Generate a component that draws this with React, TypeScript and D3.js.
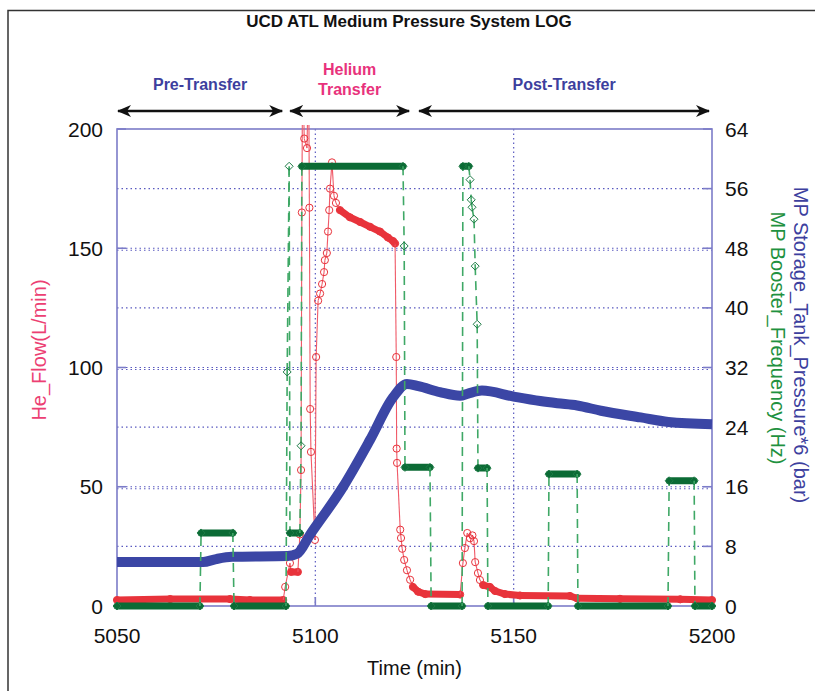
import React from "react";
import * as d3 from "d3";

const title = "UCD ATL Medium Pressure System LOG";
const xTicks = [5050, 5100, 5150, 5200];
const leftTicks = [0, 50, 100, 150, 200];
const rightTicks = [0, 8, 16, 24, 32, 40, 48, 56, 64];

// transfer phases shown with arrows above the plot
const phases = [
  { label: ["Pre-Transfer"], from: 5050, to: 5091.9, color: "#3d3f9e" },
  { label: ["Helium", "Transfer"], from: 5093.4, to: 5123.9, color: "#e8327c" },
  { label: ["Post-Transfer"], from: 5125.9, to: 5199.5, color: "#3d3f9e" },
];

// He_Flow (L/min) - left axis
const heFlow: [number, number][] = [
  [5050, 2.5], [5063.4, 2.9], [5078.5, 2.9], [5083.5, 2.5], [5091.9, 2.5],
  [5092.4, 8], [5093.6, 18], [5093.9, 14.3], [5095.6, 14.3], [5096.1, 30],
  [5096.4, 57], [5096.6, 165], [5096.8, 230], [5097.2, 196], [5097.9, 192],
  [5098.3, 230], [5098.5, 167], [5098.7, 82.6], [5098.9, 64.6], [5099.9, 27.7],
  [5100.2, 104.4], [5100.7, 128], [5101.2, 131], [5101.7, 135], [5102.2, 140],
  [5102.4, 145], [5102.9, 148], [5103.2, 157], [5103.5, 166], [5103.7, 175],
  [5104.2, 186], [5104.7, 172], [5105.2, 169], [5106.2, 166], [5108.7, 163],
  [5111.3, 161], [5113.8, 159], [5116.3, 157], [5118.3, 154.5], [5119.6, 153],
  [5120.1, 152], [5120.4, 104.4], [5120.5, 66], [5120.6, 60], [5121.4, 32],
  [5121.6, 28.5], [5121.9, 24], [5122.4, 19.3], [5123.1, 15], [5123.9, 11],
  [5124.6, 8], [5125.9, 6], [5127.7, 5], [5136.5, 4.8], [5137.2, 18],
  [5137.7, 24.3], [5138.3, 30.6], [5139.0, 28.4], [5139.6, 29.6], [5140.0, 27.2],
  [5140.3, 18.4], [5141.0, 13.8], [5141.5, 10.9], [5142.3, 8.8], [5144.0, 8],
  [5145.3, 6.3], [5147.8, 5], [5151.6, 4.4], [5164.2, 4.2], [5166.0, 3.2],
  [5176.8, 3.0], [5192, 2.8], [5200, 2.5],
];

// MP Storage_Tank_Pressure*6 (bar) - right axis
const tankPressure: [number, number][] = [
  [5050, 5.9], [5071.7, 5.9], [5075, 6.3], [5079, 6.6], [5093, 6.7],
  [5095.4, 7.0], [5098.7, 9.6], [5107.0, 16.0], [5113.8, 22.3], [5119.6, 28.0],
  [5123.1, 29.8], [5126, 29.5], [5131.4, 28.7], [5136.5, 28.2], [5138.5, 28.5],
  [5142.0, 28.9], [5150, 28.1], [5156.7, 27.5], [5161, 27.2], [5166, 26.9],
  [5172, 26.2], [5182, 25.3], [5189, 24.7], [5200, 24.4],
];

// MP Booster_Frequency (Hz) - right axis
const boosterFreq: [number, number][] = [
  [5050, 0], [5070.9, 0], [5071.2, 9.8], [5079.2, 9.8], [5079.5, 0],
  [5092.6, 0], [5092.9, 31.4], [5093.4, 59], [5093.6, 9.8], [5096.1, 9.8],
  [5096.4, 21.5], [5096.6, 59], [5122.1, 59], [5122.4, 48.3], [5122.6, 18.6],
  [5128.9, 18.6], [5129.2, 0], [5137.0, 0], [5137.2, 59], [5138.7, 59],
  [5139.0, 57.2], [5139.3, 54.5], [5139.5, 53.5], [5140.0, 51.9], [5140.3, 45.6],
  [5140.8, 37.8], [5141.0, 18.5], [5143.3, 18.5], [5143.5, 0], [5158.7, 0],
  [5158.9, 17.7], [5166.0, 17.7], [5166.2, 0], [5188.9, 0], [5189.2, 16.8],
  [5195.5, 16.8], [5195.7, 0], [5200, 0],
];

const W = 815;
const H = 691;
const left = 117, right = 712, top = 129, bottom = 606;
const font = "'Liberation Sans', Arial, Helvetica, sans-serif";

const x = d3.scaleLinear().domain([5050, 5200]).range([left, right]);
const yL = d3.scaleLinear().domain([0, 200]).range([bottom, top]);
const yR = d3.scaleLinear().domain([0, 64]).range([bottom, top]);

type Seg = { x1: number; y1: number; x2: number; y2: number };
function segments(pts: [number, number][], y: d3.ScaleLinear<number, number>): Seg[] {
  return pts.slice(1).map((p, i) => ({
    x1: x(pts[i][0]), y1: y(pts[i][1]), x2: x(p[0]), y2: y(p[1]),
  }));
}
// dense samples draw as a solid band where the curve is nearly level
const isFlat = (s: Seg) => Math.abs(s.y2 - s.y1) <= Math.max(2.5, 1.2 * Math.abs(s.x2 - s.x1));

export default function App() {
  const redSegs = segments(heFlow, yL);
  const greenSegs = segments(boosterFreq, yR);
  const blueLine = d3.line<[number, number]>()
    .x(d => x(d[0])).y(d => yR(d[1]))
    .curve(d3.curveMonotoneX)(tankPressure) || "";
  const grid = "#5a5ac0";
  const frame = "#7c7cc8";

  return (
    <svg width={W} height={H} style={{ position: "absolute", left: 0, top: 0, display: "block", background: "#fff" }}
      fontFamily={font}>
      <defs>
        <clipPath id="plotClip">
          <rect x={left - 6} y={top - 4} width={right - left + 12} height={bottom - top + 14} />
        </clipPath>
        <marker id="head" viewBox="0 0 14 12" refX="13" refY="6" markerWidth="14" markerHeight="12"
          markerUnits="userSpaceOnUse" orient="auto-start-reverse">
          <path d="M0,0 L14,6 L0,12 L4,6 Z" fill="#111" />
        </marker>
      </defs>

      {/* outer frame */}
      <path d="M8,700 L8,10.5 L820,10.5" fill="none" stroke="#333" strokeWidth={1.5} />

      <text x={409} y={27} textAnchor="middle" fontWeight="bold" fontSize={17} fill="#111">{title}</text>

      {/* phase arrows and labels */}
      {phases.map((p, i) => {
        const cx = (x(p.from) + x(p.to)) / 2;
        const n = p.label.length;
        return (
          <g key={i}>
            <line x1={x(p.from) + 1} x2={x(p.to) - 1} y1={111} y2={111} stroke="#111" strokeWidth={2.5}
              markerStart="url(#head)" markerEnd="url(#head)" />
            {p.label.map((t, j) => (
              <text key={j} x={cx} y={n === 1 ? 90 : 75 + j * 20} textAnchor="middle" fontWeight="bold"
                fontSize={16} fill={p.color}>{t}</text>
            ))}
          </g>
        );
      })}

      {/* dotted grid */}
      {rightTicks.slice(1, -1).map(t => (
        <line key={"gr" + t} x1={left} x2={right} y1={yR(t)} y2={yR(t)} stroke={grid}
          strokeWidth={1.2} strokeDasharray="1.5 3" />
      ))}
      {leftTicks.slice(1, -1).map(t => (
        <line key={"gl" + t} x1={left} x2={right} y1={yL(t) + 2} y2={yL(t) + 2} stroke={grid}
          strokeWidth={1.2} strokeDasharray="1.5 3" />
      ))}
      {xTicks.slice(1, -1).map(t => (
        <line key={"gx" + t} x1={x(t)} x2={x(t)} y1={top} y2={bottom} stroke={grid}
          strokeWidth={1.2} strokeDasharray="1.5 3" />
      ))}

      {/* plot frame and ticks */}
      <rect x={left} y={top} width={right - left} height={bottom - top} fill="none" stroke={frame} strokeWidth={1.6} />
      {leftTicks.map(t => (
        <line key={"tl" + t} x1={left} x2={left + 9} y1={yL(t)} y2={yL(t)} stroke={frame} strokeWidth={1.6} />
      ))}
      {rightTicks.map(t => (
        <line key={"tr" + t} x1={right - 9} x2={right} y1={yR(t)} y2={yR(t)} stroke={frame} strokeWidth={1.6} />
      ))}
      {xTicks.map(t => (
        <line key={"tx" + t} x1={x(t)} x2={x(t)} y1={bottom} y2={bottom - 9} stroke={frame} strokeWidth={1.6} />
      ))}

      <g clipPath="url(#plotClip)">
        {/* He flow */}
        {redSegs.map((s, i) => isFlat(s)
          ? <line key={"rb" + i} {...s} stroke="#e8333b" strokeWidth={7} strokeLinecap="round" />
          : <line key={"rt" + i} {...s} stroke="#f05a68" strokeWidth={1.1} />)}
        {heFlow.map((d, i) => (
          <circle key={"rc" + i} cx={x(d[0])} cy={yL(d[1])} r={3.6} fill="none" stroke="#e8333b" strokeWidth={1} />
        ))}

        {/* tank pressure */}
        <path d={blueLine} fill="none" stroke="#3b46a5" strokeWidth={10} strokeLinejoin="round" />

        {/* booster frequency */}
        {greenSegs.map((s, i) => isFlat(s)
          ? <line key={"gb" + i} {...s} stroke="#0b6b35" strokeWidth={7} strokeLinecap="round" />
          : <line key={"gt" + i} {...s} stroke="#3fa866" strokeWidth={1.6} strokeDasharray="9 6" />)}
        {boosterFreq.map((d, i) => {
          const cx = x(d[0]), cy = yR(d[1]);
          return <path key={"gd" + i} d={`M${cx},${cy - 4}L${cx + 4},${cy}L${cx},${cy + 4}L${cx - 4},${cy}Z`}
            fill="none" stroke="#1d7a45" strokeWidth={1} />;
        })}
      </g>

      {/* tick labels */}
      {leftTicks.map(t => (
        <text key={"ll" + t} x={103} y={yL(t) + 7.5} textAnchor="end" fontSize={21} fill="#111">{t}</text>
      ))}
      {rightTicks.map(t => (
        <text key={"rl" + t} x={725} y={yR(t) + 7.5} textAnchor="start" fontSize={21} fill="#111">{t}</text>
      ))}
      {xTicks.map(t => (
        <text key={"xl" + t} x={x(t)} y={643} textAnchor="middle" fontSize={21} fill="#111">{t}</text>
      ))}

      {/* axis titles */}
      <text x={(left + right) / 2} y={675} textAnchor="middle" fontSize={20} fill="#111">Time (min)</text>
      <text transform="translate(39,350) rotate(-90)" dy="0.35em" textAnchor="middle" fontSize={20} fill="#ec3f73">
        He_Flow(L/min)
      </text>
      <text transform="translate(801,345) rotate(90)" dy="0.35em" textAnchor="middle" fontSize={20} fill="#3d3f9e">
        MP Storage_Tank_Pressure*6 (bar)
      </text>
      <text transform="translate(778,338) rotate(90)" dy="0.35em" textAnchor="middle" fontSize={20} fill="#1f9140">
        MP Booster_Frequency (Hz)
      </text>
    </svg>
  );
}
